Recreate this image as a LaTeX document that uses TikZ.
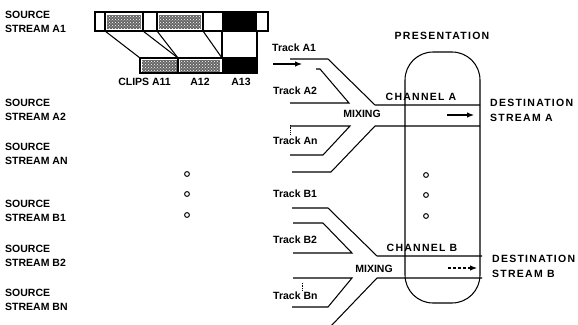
\documentclass[tikz,border=0pt]{standalone}
\usepackage{fontspec}
\setmainfont{Liberation Sans}
\newfontfamily\spacedfont[LetterSpace=12]{Liberation Sans}
\usetikzlibrary{arrows.meta,patterns}
\newcommand\labfont{\bfseries\fontsize{10.5}{14}\selectfont}
\newcommand\wlabfont{\spacedfont\bfseries\fontsize{10.5}{15}\selectfont}
\begin{document}
\begin{tikzpicture}[x=1pt,y=-1pt,
  lab/.style={font=\labfont, inner sep=0pt, align=left},
  wlab/.style={font=\wlabfont, inner sep=0pt, align=left},
  ln/.style={line width=1.05pt},
  hatch/.style={fill=black!60},
  hatchdots/.style={pattern=crosshatch dots, pattern color=white},
  arr/.style={ln,-{Latex[length=7pt,width=5.5pt]}},
  dotc/.style={line width=1pt}]
\useasboundingbox (0,0) rectangle (578,324);

% source labels
\node[lab,anchor=west] (sa1) at (5,21.5) {SOURCE\\STREAM A1};
\node[lab,anchor=west] (sa2) at (5,110) {SOURCE\\STREAM A2};
\node[lab,anchor=west] (san) at (5,153.5) {SOURCE\\STREAM AN};
\node[lab,anchor=west] (sb1) at (5,210.5) {SOURCE\\STREAM B1};
\node[lab,anchor=west] (sb2) at (5,255.5) {SOURCE\\STREAM B2};
\node[lab,anchor=west] (sbn) at (5,299.5) {SOURCE\\STREAM BN};

% top stream strip
\fill[hatch] (107,14.5) rectangle (141,29);
\fill[hatchdots] (107,14.5) rectangle (141,29);
\fill[hatch] (159,14.5) rectangle (201,29);
\fill[hatchdots] (159,14.5) rectangle (201,29);
\fill[black] (222,12) rectangle (257,31);
\draw[ln] (95,12) rectangle (268,31);
\foreach \xx in {105,143,157,203} \draw[ln] (\xx,12) -- (\xx,31);
% clips strip
\fill[hatch] (142,60) rectangle (176.5,71.5);
\fill[hatchdots] (142,60) rectangle (176.5,71.5);
\fill[hatch] (179.5,60) rectangle (220,71.5);
\fill[hatchdots] (179.5,60) rectangle (220,71.5);
\fill[black] (222,58) rectangle (257,73);
\draw[ln] (140,58) rectangle (257,73);
\draw[ln] (178,58) -- (178,73);
% connections
\draw[ln] (105,31) -- (140,58);
\draw[ln] (143,31) -- (178,58);
\draw[ln] (157,31) -- (178,58);
\draw[ln] (203,31) -- (222,58);
\draw[ln] (222,31) -- (222,58);
\draw[ln] (257,31) -- (257,58);
\node[lab,anchor=east] (c11) at (171,82) {CLIPS A11};
\node[lab] (c12) at (200,82) {A12};
\node[lab] (c13) at (241,82) {A13};

% left dots
\foreach \yy in {174,194,215} \draw[dotc] (187,\yy) circle[radius=2.4pt];

% presentation box
\draw[ln,rounded corners=28pt] (405,303) rectangle (480,52);
\node[wlab] (pres) at (442,36) {PRESENTATION};
\foreach \yy in {175,195,216} \draw[dotc] (426,\yy) circle[radius=2.4pt];

% A tracks
\node[lab,anchor=west] (ta1) at (272,48) {Track A1};
\node[lab,anchor=west] (ta2) at (273,91) {Track A2};
\node[lab,anchor=west] (tan) at (273,141) {Track An};
\draw[ln] (290,59) -- (328,59) -- (375,105) -- (480,105);
\draw[ln] (316,69) -- (320,69) -- (349,103) -- (290,103);
\draw[ln] (290,126) -- (350,126) -- (323,155) -- (290,155);
\draw[ln] (480,126) -- (375,126) -- (331,172) -- (292,172);
\draw[line width=0.7pt,densely dotted] (290,125) -- (290,135);
\draw[arr] (273,64) -- (302,64);
\draw[arr] (447,115) -- (474,115);
\node[wlab] (cha) at (421,97) {CHANNEL A};
\node[lab] (mixa) at (362,114) {MIXING};
\node[wlab,anchor=west] (dsa) at (490,110.5) {DESTINATION\\STREAM A};

% B tracks
\node[lab,anchor=west] (tb1) at (273,194) {Track B1};
\node[lab,anchor=west] (tb2) at (273,240) {Track B2};
\node[lab,anchor=west] (tbn) at (273,296) {Track Bn};
\draw[ln] (292,208) -- (328,208) -- (377,256) -- (482,256);
\draw[ln] (293,223) -- (323,223) -- (352,253) -- (293,253);
\draw[ln] (293,278) -- (352,278) -- (328,307) -- (292,307);
\draw[ln] (482,278) -- (377,278) -- (331,326);
\draw[line width=0.7pt,densely dotted] (302,283) -- (302,290);
\draw[arr,densely dashed] (448,268) -- (477,268);
\node[wlab] (chb) at (422,248) {CHANNEL B};
\node[lab] (mixb) at (374,269) {MIXING};
\node[wlab,anchor=west] (dsb) at (492,266.5) {DESTINATION\\STREAM B};
\end{tikzpicture}
\end{document}
